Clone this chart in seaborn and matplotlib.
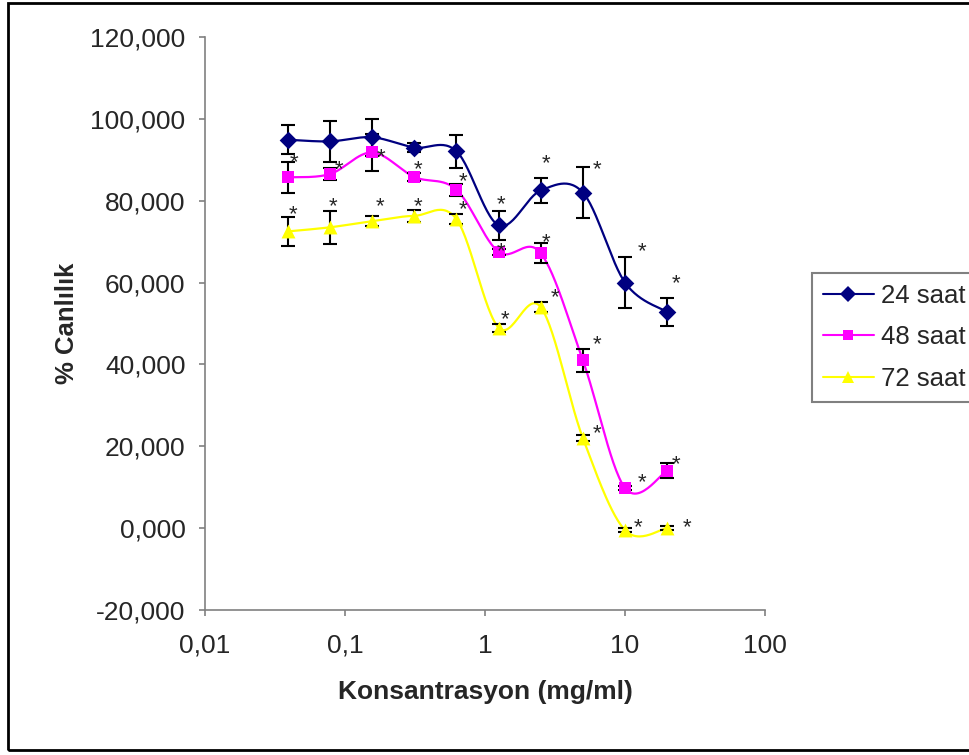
import numpy as np
import pandas as pd
import seaborn as sns
import matplotlib.pyplot as plt
from matplotlib.lines import Line2D
from matplotlib.patches import Rectangle
from matplotlib.ticker import FuncFormatter

# Data
conc = [0.039, 0.078, 0.156, 0.3125, 0.625, 1.25, 2.5, 5, 10, 20]
series = ['24 saat', '48 saat', '72 saat']

v24 = [94.9, 94.5, 95.5, 93.0, 92.1, 74.0, 82.5, 82.0, 60.0, 52.8]
e24 = [3.5, 5.0, 4.5, 1.0, 4.0, 3.5, 3.0, 6.2, 6.2, 3.5]
v48 = [85.7, 86.5, 91.8, 85.8, 82.7, 67.5, 67.2, 41.0, 9.8, 14.0]
e48 = [3.8, 1.5, 4.5, 1.0, 1.5, 0.8, 2.5, 2.8, 0.5, 1.8]
v72 = [72.5, 73.5, 75.0, 76.3, 75.5, 49.0, 54.0, 22.0, -0.5, 0.0]
e72 = [3.5, 4.0, 1.2, 1.5, 1.2, 1.0, 1.2, 0.8, 0.5, 0.5]

# asterisk labels (x, y) per series
star24_x = [1.30, 2.73, 6.31, 13.2, 23.1]
star24_y = [80.6, 90.6, 89.2, 69.2, 61.3]
star48_x = [0.0433, 0.0906, 0.181, 0.332, 0.697, 1.30, 2.73, 6.31, 13.2, 23.1]
star48_y = [90.9, 89.2, 92.1, 89.2, 86.2, 69.1, 71.3, 46.4, 12.7, 17.1]
star72_x = [0.0425, 0.0821, 0.178, 0.332, 0.697, 1.39, 3.16, 6.31, 12.4, 27.7]
star72_y = [78.2, 80.1, 80.1, 80.1, 79.4, 52.5, 57.9, 24.7, 1.7, 1.7]

colors = {'24 saat': '#000080', '48 saat': '#FF00FF', '72 saat': '#FFFF00'}
markers = {'24 saat': 'D', '48 saat': 's', '72 saat': '^'}
msizes = {'24 saat': 9, '48 saat': 8.5, '72 saat': 10}

values = {'24 saat': v24, '48 saat': v48, '72 saat': v72}
errors = {'24 saat': e24, '48 saat': e48, '72 saat': e72}
stars = {'24 saat': (star24_x, star24_y), '48 saat': (star48_x, star48_y),
         '72 saat': (star72_x, star72_y)}


def smooth(xs, ys, n=30):
    # Excel-style smoothed line: Catmull-Rom spline in log-x space
    px = np.log10(np.asarray(xs, float))
    py = np.asarray(ys, float)
    px = np.concatenate([[px[0]], px, [px[-1]]])
    py = np.concatenate([[py[0]], py, [py[-1]]])
    ox, oy = [], []
    t = np.linspace(0, 1, n)
    for i in range(1, len(px) - 2):
        p0x, p1x, p2x, p3x = px[i - 1:i + 3]
        p0y, p1y, p2y, p3y = py[i - 1:i + 3]
        c1x, c1y = p1x + (p2x - p0x) / 6, p1y + (p2y - p0y) / 6
        c2x, c2y = p2x - (p3x - p1x) / 6, p2y - (p3y - p1y) / 6
        bx = (1-t)**3*p1x + 3*(1-t)**2*t*c1x + 3*(1-t)*t**2*c2x + t**3*p2x
        by = (1-t)**3*p1y + 3*(1-t)**2*t*c1y + 3*(1-t)*t**2*c2y + t**3*p2y
        ox.extend(bx)
        oy.extend(by)
    return 10 ** np.array(ox), np.array(oy)


sns.set_style('white')
plt.rcParams['font.family'] = ['Liberation Sans', 'DejaVu Sans']

fig = plt.figure(figsize=(9.7, 7.55), dpi=100)
ax = fig.add_axes([205 / 970, 1 - 610 / 755, 560 / 970, 573 / 755])

curves = []
for s in series:
    cx, cy = smooth(conc, values[s])
    curves.append(pd.DataFrame({'x': cx, 'y': cy, 'series': s}))
curve_df = pd.concat(curves, ignore_index=True)

points = pd.DataFrame({
    'x': conc * 3,
    'y': v24 + v48 + v72,
    'err': e24 + e48 + e72,
    'series': [s for s in series for _ in conc],
})

sns.lineplot(data=curve_df, x='x', y='y', hue='series', palette=colors,
             linewidth=1.6, legend=False, ax=ax, sort=False, estimator=None)

for s in series:
    d = points[points['series'] == s]
    ax.errorbar(d['x'], d['y'], yerr=d['err'], fmt='none', ecolor='black',
                elinewidth=1.5, capsize=5.3, capthick=1.5, zorder=3)

for s in series:
    d = points[points['series'] == s]
    sns.scatterplot(data=d, x='x', y='y', color=colors[s], marker=markers[s],
                    s=msizes[s] ** 2, edgecolor=colors[s], linewidth=0,
                    legend=False, ax=ax, zorder=4)
    sx, sy = stars[s]
    for x, y in zip(sx, sy):
        ax.annotate('*', (x, y), xytext=(0, -8.5), textcoords='offset points',
                    ha='center', va='baseline', fontsize=16, zorder=5)

ax.set_xscale('log')
ax.set_xlim(0.01, 100)
ax.set_ylim(-20, 120)
ax.set_yticks(np.arange(-20, 121, 20))
ax.set_xticks([0.01, 0.1, 1, 10, 100])
ax.xaxis.set_minor_locator(plt.NullLocator())
ax.yaxis.set_major_formatter(FuncFormatter(lambda v, p: f'{v:.3f}'.replace('.', ',')))
ax.xaxis.set_major_formatter(FuncFormatter(
    lambda v, p: {0.01: '0,01', 0.1: '0,1', 1: '1', 10: '10', 100: '100'}.get(round(v, 2), '')))

for side in ['top', 'right']:
    ax.spines[side].set_visible(False)
for side in ['left', 'bottom']:
    ax.spines[side].set_color('#808080')
    ax.spines[side].set_linewidth(1.2)
ax.tick_params(axis='both', which='major', direction='out', length=4, width=1.2,
               color='#808080', labelsize=19, left=True, bottom=True)
ax.tick_params(axis='y', pad=10)
ax.tick_params(axis='x', pad=13)

ax.set_xlabel('Konsantrasyon (mg/ml)', fontsize=19, fontweight='bold', labelpad=16)
ax.set_ylabel('% Canlılık', fontsize=18.5, fontweight='bold', labelpad=8)

handles = [Line2D([0], [0], color=colors[s], marker=markers[s], markersize=msizes[s] * 0.85,
                  markeredgewidth=0, linewidth=1.5) for s in series]
leg = fig.legend(handles, series, loc='upper left', bbox_to_anchor=(812 / 970, 1 - 273 / 755),
                 bbox_transform=fig.transFigure, fontsize=18.5, frameon=True, fancybox=False,
                 borderaxespad=0, handlelength=2.0, handletextpad=0.25, labelspacing=0.68,
                 borderpad=0.42)
leg.get_frame().set_edgecolor('#606060')
leg.get_frame().set_linewidth(1.5)

fig.patches.append(Rectangle((8 / 970, 5 / 755), 1.0, 1 - 8 / 755, transform=fig.transFigure,
                             fill=False, edgecolor='black', linewidth=2))

fig.savefig('out.png', dpi=100)
